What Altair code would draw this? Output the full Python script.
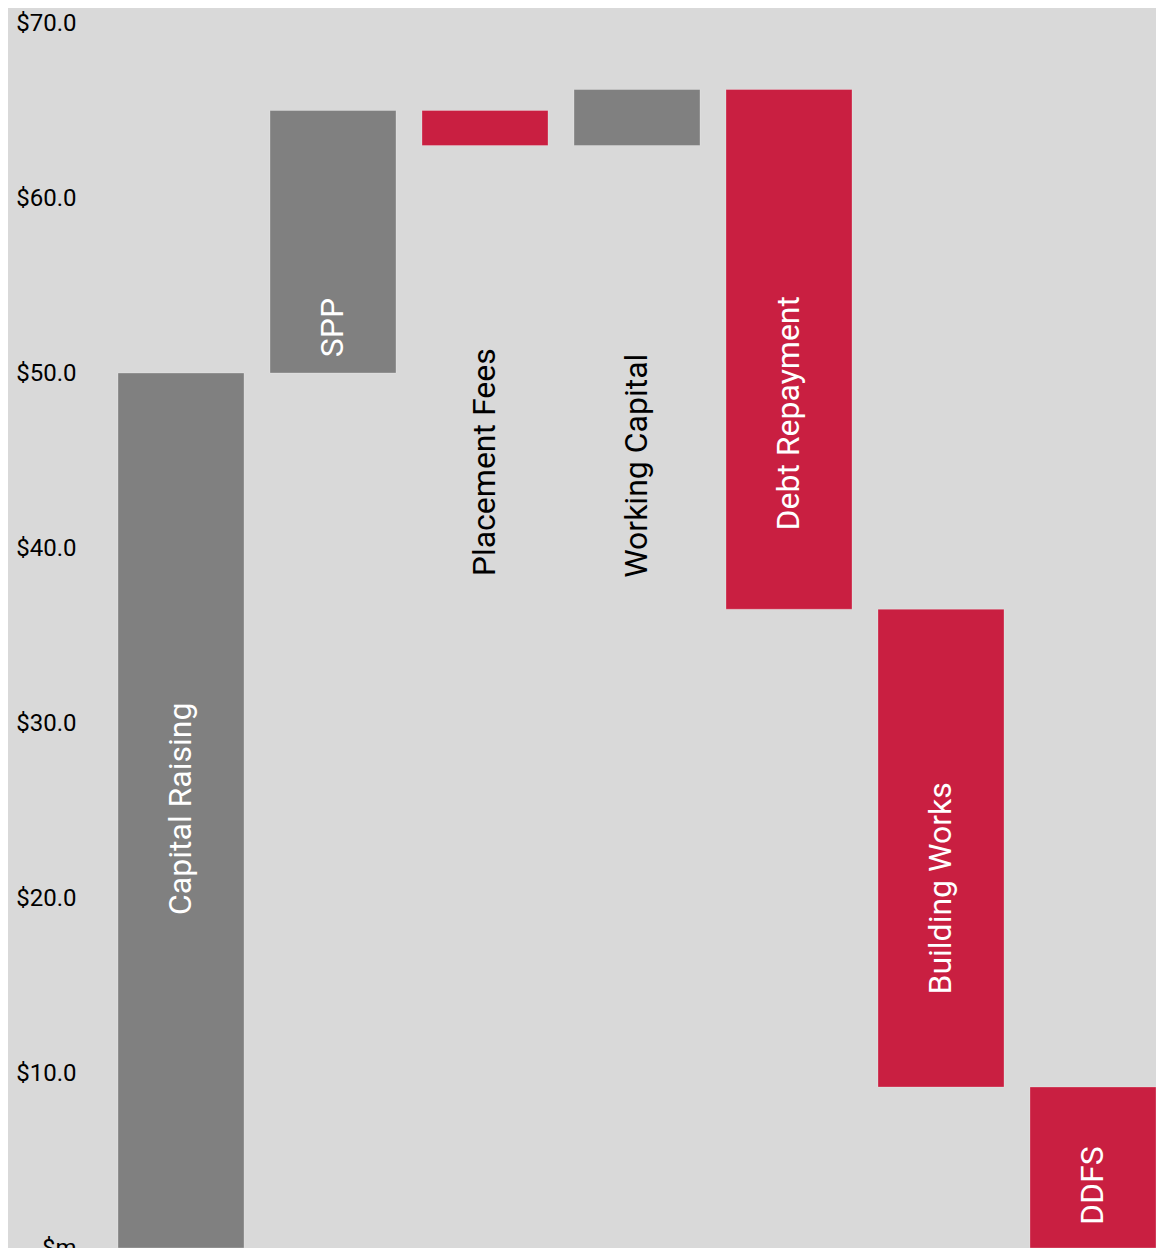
import altair as alt
import pandas as pd

categories = ["Capital Raising", "SPP", "Placement Fees", "Working Capital",
              "Debt Repayment", "Building Works", "DDFS"]
bar_start = [0.0, 50.0, 65.0, 63.0, 66.2, 36.5, 9.2]
bar_end = [50.0, 65.0, 63.0, 66.2, 36.5, 9.2, 0.0]
kind = ["Source", "Source", "Use", "Source", "Use", "Use", "Use"]
label_at = [25.1, 52.6, 44.9, 44.7, 47.7, 20.55, 3.56]
label_tone = ["light", "light", "dark", "dark", "light", "light", "light"]

df = pd.DataFrame({
    "category": categories,
    "start": bar_start,
    "end": bar_end,
    "kind": kind,
    "label_at": label_at,
    "tone": label_tone,
})

x = alt.X("category:N", sort=categories, axis=None,
          scale=alt.Scale(paddingInner=0.171, paddingOuter=0.0428, align=1))

y_scale = alt.Scale(domain=[0, 70], nice=False, zero=True)

bars = alt.Chart(df).mark_bar(stroke="#ffffff", strokeOpacity=0.25, strokeWidth=1).encode(
    x=x,
    y=alt.Y("start:Q", scale=y_scale, title=None,
            axis=alt.Axis(values=[0, 10, 20, 30, 40, 50, 60, 70],
                          labelExpr="datum.value == 0 ? '$m' : '$' + format(datum.value, '.1f')",
                          domain=False, ticks=False, grid=False,
                          labelFont="Roboto", labelFontSize=24, labelColor="#000000",
                          labelPadding=29)),
    y2="end:Q",
    color=alt.Color("kind:N", legend=None,
                    scale=alt.Scale(domain=["Source", "Use"], range=["#808080", "#c91f41"])),
)

labels = alt.Chart(df).mark_text(angle=270, align="center", baseline="middle",
                                 font="Roboto", fontSize=32).encode(
    x=x,
    y=alt.Y("label_at:Q", scale=y_scale),
    text="category:N",
    color=alt.Color("tone:N", legend=None,
                    scale=alt.Scale(domain=["light", "dark"], range=["#ffffff", "#000000"])),
)

chart = alt.layer(bars, labels).resolve_scale(color="independent").properties(
    width=1051, height=1225,
    background="#d9d9d9",
    autosize=alt.AutoSizeParams(type="none"),
    padding={"left": 97, "top": 15, "right": 0, "bottom": 0},
).configure_view(stroke=None)

chart.save("out.html", embed_options={"renderer": "svg", "actions": False})
